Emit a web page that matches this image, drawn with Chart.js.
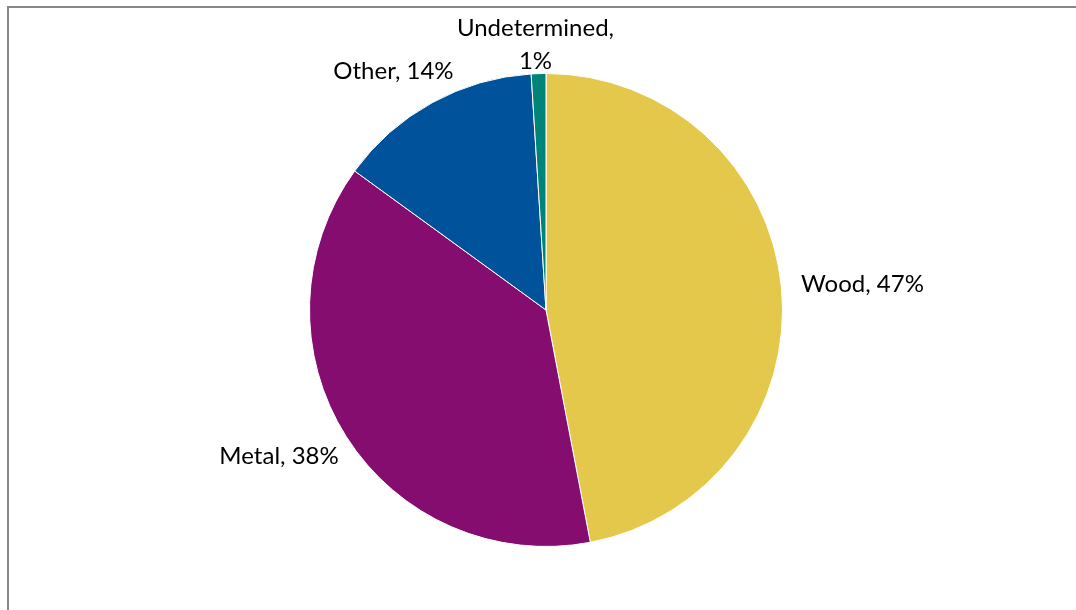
<!DOCTYPE html>
<html>
<head>
<meta charset="utf-8">
<script src="https://cdn.jsdelivr.net/npm/chart.js@4.4.0/dist/chart.umd.min.js"></script>
<style>
  html, body { margin: 0; padding: 0; background: #fff; overflow: hidden; }
  #wrap { position: relative; width: 1076px; height: 610px; }
  #marco { position: absolute; left: 7px; top: 6px; width: 1200px; height: 800px; border: 2px solid #878787; }
  canvas { position: absolute; left: 0; top: 0; }
</style>
</head>
<body>
<div id="wrap">
  <div id="marco"></div>
  <canvas id="pieChart" width="1076" height="610"></canvas>
</div>
<script>
// Datos del gráfico
const categorias = ["Wood", "Metal", "Other", "Undetermined"];
const porcentajes = [47, 38, 14, 1];
const etiquetas = [["Wood, 47%"], ["Metal, 38%"], ["Other, 14%"], ["Undetermined,", "1%"]];
const colores = ["#E3C84B", "#850D6F", "#00529A", "#00847A"];

const fuente = "24px Lato, 'Noto Sans', sans-serif";
const altoLinea = 33;

// Etiquetas fuera de cada porción
const etiquetasFuera = {
  id: "etiquetasFuera",
  afterDatasetsDraw(chart) {
    const ctx = chart.ctx;
    const meta = chart.getDatasetMeta(0);
    ctx.save();
    ctx.font = fuente;
    ctx.fillStyle = "#000";
    ctx.textBaseline = "middle";
    ctx.textAlign = "center";
    meta.data.forEach((arc, i) => {
      const { x, y, startAngle, endAngle, outerRadius } = arc.getProps(["x", "y", "startAngle", "endAngle", "outerRadius"], true);
      const mid = (startAngle + endAngle) / 2;
      const dx = Math.cos(mid), dy = Math.sin(mid);
      const r = outerRadius + 20;
      const lineas = etiquetas[i];
      const w = Math.max(...lineas.map(l => ctx.measureText(l).width));
      const h = lineas.length * altoLinea;
      let cx = x + dx * r + dx * w / 2;
      let cy = y + dy * r + dy * h / 2;
      if (cy - h / 2 < 12) cy = 12 + h / 2;
      lineas.forEach((l, k) => {
        ctx.fillText(l, cx, cy - h / 2 + altoLinea * (k + 0.5));
      });
    });
    ctx.restore();
  }
};

new Chart(document.getElementById("pieChart"), {
  type: "pie",
  data: {
    labels: categorias,
    datasets: [{
      data: porcentajes,
      backgroundColor: colores,
      borderColor: "#ffffff",
      borderWidth: 1,
    }],
  },
  options: {
    responsive: false,
    animation: false,
    layout: { padding: { top: 73, bottom: 63, left: 100, right: 84 } },
    plugins: {
      legend: { display: false },
      tooltip: { enabled: false }
    }
  },
  plugins: [etiquetasFuera]
});
</script>
</body>
</html>
